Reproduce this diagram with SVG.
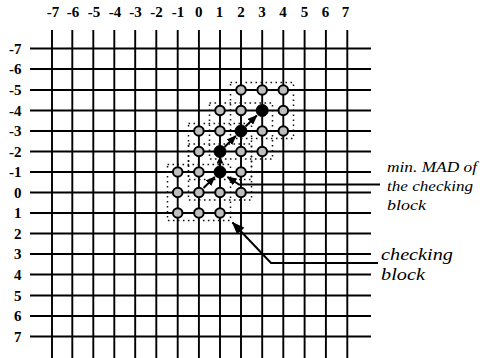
<svg xmlns="http://www.w3.org/2000/svg" width="484" height="358" viewBox="0 0 484 358">
<style>
.g{stroke:#000;stroke-width:1.9;fill:none}
.blk{fill:none;stroke:#111;stroke-width:1.5;stroke-dasharray:1.6 3.4}
.ax{font-family:"Liberation Serif",serif;font-weight:bold;font-size:15px;fill:#000}
.lb{font-family:"Liberation Serif",serif;font-style:italic;fill:#000}
.pt{fill:#bdbdbd;stroke:#000;stroke-width:2}
.bk{fill:#000;stroke:#000;stroke-width:1}
.ar{stroke:#000;stroke-width:2;fill:none}
.pn{stroke:#000;stroke-width:2;fill:none}
</style>
<defs>
<marker id="ah" markerUnits="userSpaceOnUse" markerWidth="10" markerHeight="8" refX="9" refY="4" orient="auto"><path d="M0,0 L10,4 L0,8 z" fill="#000"/></marker>
<marker id="ahs" markerUnits="userSpaceOnUse" markerWidth="7" markerHeight="7" refX="6" refY="3.5" orient="auto"><path d="M0,0 L7,3.5 L0,7 z" fill="#000"/></marker>
<marker id="ahl" markerUnits="userSpaceOnUse" markerWidth="13" markerHeight="10" refX="12" refY="5" orient="auto"><path d="M0,0 L13,5 L0,10 z" fill="#000"/></marker>
</defs>
<g id="grid">
<path class="g" d="M52,30V358M72.3,30V358M93.3,30V358M114.3,30V358M135.2,30V358M156.3,30V358M177.7,30V358M198.9,30V358M220,30V358M241,30V358M262.2,30V358M283.3,30V358M304.6,30V358M325.9,30V358M347.3,30V358"/>
<path class="g" d="M30,48.5H371M30,69H371M30,90H371M30,110.5H371M30,131H371M30,151.5H371M30,172H371M30,192.5H371M30,213H371M30,233.5H371M30,254H371M30,274.5H371M30,295.5H371M30,316H371M30,336.5H371"/>
</g>
<g id="x-axis" class="ax" text-anchor="middle">
<text x="53" y="17">-7</text><text x="73" y="17">-6</text><text x="94" y="17">-5</text><text x="115" y="17">-4</text><text x="135.5" y="17">-3</text><text x="156.5" y="17">-2</text><text x="178" y="17">-1</text><text x="198.7" y="17">0</text><text x="219.5" y="17">1</text><text x="241" y="17">2</text><text x="262" y="17">3</text><text x="283" y="17">4</text><text x="304.5" y="17">5</text><text x="325.5" y="17">6</text><text x="345.5" y="17">7</text>
</g>
<g id="y-axis" class="ax" text-anchor="end">
<text x="21.5" y="53.5">-7</text><text x="21.5" y="74">-6</text><text x="21.5" y="95">-5</text><text x="21.5" y="115.5">-4</text><text x="21.5" y="136">-3</text><text x="21.5" y="156.5">-2</text><text x="21.5" y="177">-1</text><text x="21.5" y="197.5">0</text><text x="21.5" y="218">1</text><text x="21.5" y="238.5">2</text><text x="21.5" y="259">3</text><text x="21.5" y="279.5">4</text><text x="21.5" y="300.5">5</text><text x="21.5" y="321">6</text><text x="21.5" y="341.5">7</text>
</g>
<g id="checking-blocks">
<rect id="block-0-0" class="blk" x="167.5" y="164.5" width="63" height="56"/>
<rect id="block-1-m1" class="blk" x="188.5" y="144" width="63" height="56"/>
<rect id="block-1-m2" class="blk" x="188.5" y="123.5" width="63" height="56"/>
<rect id="block-2-m3" class="blk" x="209.5" y="103" width="63" height="56"/>
<rect id="block-3-m4" class="blk" x="230.5" y="82.5" width="63" height="56"/>
</g>
<g id="connectors">
<line class="ar" x1="203.5" y1="188" x2="214.8" y2="177" marker-end="url(#ah)"/>
<line class="ar" x1="220" y1="166" x2="220" y2="157.5" marker-end="url(#ahs)"/>
<line class="ar" x1="224.5" y1="147" x2="235.8" y2="136" marker-end="url(#ah)"/>
<line class="ar" x1="245.5" y1="126.5" x2="256.8" y2="115.5" marker-end="url(#ah)"/>
<polyline class="pn" points="380,184.5 239,184.5 227.5,177" marker-end="url(#ah)"/>
<polyline class="pn" points="378,263 271,263 232.5,222.5" marker-end="url(#ahl)"/>
</g>
<g id="search-points">
<g id="p-2-m5"><circle class="pt" cx="241" cy="90" r="4.8"/></g>
<g id="p-3-m5"><circle class="pt" cx="262.2" cy="90" r="4.8"/></g>
<g id="p-4-m5"><circle class="pt" cx="283.3" cy="90" r="4.8"/></g>
<g id="p-1-m4"><circle class="pt" cx="220" cy="110.5" r="4.8"/></g>
<g id="p-2-m4"><circle class="pt" cx="241" cy="110.5" r="4.8"/></g>
<g id="p-4-m4"><circle class="pt" cx="283.3" cy="110.5" r="4.8"/></g>
<g id="p-0-m3"><circle class="pt" cx="198.9" cy="131" r="4.8"/></g>
<g id="p-1-m3"><circle class="pt" cx="220" cy="131" r="4.8"/></g>
<g id="p-3-m3"><circle class="pt" cx="262.2" cy="131" r="4.8"/></g>
<g id="p-4-m3"><circle class="pt" cx="283.3" cy="131" r="4.8"/></g>
<g id="p-0-m2"><circle class="pt" cx="198.9" cy="151.5" r="4.8"/></g>
<g id="p-2-m2"><circle class="pt" cx="241" cy="151.5" r="4.8"/></g>
<g id="p-3-m2"><circle class="pt" cx="262.2" cy="151.5" r="4.8"/></g>
<g id="p-m1-m1"><circle class="pt" cx="177.7" cy="172" r="4.8"/></g>
<g id="p-0-m1"><circle class="pt" cx="198.9" cy="172" r="4.8"/></g>
<g id="p-2-m1"><circle class="pt" cx="241" cy="172" r="4.8"/></g>
<g id="p-m1-0"><circle class="pt" cx="177.7" cy="192.5" r="4.8"/></g>
<g id="p-0-0"><circle class="pt" cx="198.9" cy="192.5" r="4.8"/></g>
<g id="p-1-0"><circle class="pt" cx="220" cy="192.5" r="4.8"/></g>
<g id="p-2-0"><circle class="pt" cx="241" cy="192.5" r="4.8"/></g>
<g id="p-m1-1"><circle class="pt" cx="177.7" cy="213" r="4.8"/></g>
<g id="p-0-1"><circle class="pt" cx="198.9" cy="213" r="4.8"/></g>
<g id="p-1-1"><circle class="pt" cx="220" cy="213" r="4.8"/></g>
<g id="best-3-m4"><circle class="bk" cx="262.2" cy="110.5" r="6"/></g>
<g id="best-2-m3"><circle class="bk" cx="241" cy="131" r="6"/></g>
<g id="best-1-m2"><circle class="bk" cx="220" cy="151.5" r="6"/></g>
<g id="best-1-m1"><circle class="bk" cx="220" cy="172" r="6"/></g>
</g>
<g id="label-min-mad" class="lb" font-size="15">
<text x="387" y="171.5" textLength="90" lengthAdjust="spacingAndGlyphs">min. MAD of</text>
<text x="387" y="190.5" textLength="86" lengthAdjust="spacingAndGlyphs">the checking</text>
<text x="387" y="209.5" textLength="39" lengthAdjust="spacingAndGlyphs">block</text>
</g>
<g id="label-checking-block" class="lb" font-size="17">
<text x="381" y="259.5" textLength="72" lengthAdjust="spacingAndGlyphs">checking</text>
<text x="381" y="280" textLength="44" lengthAdjust="spacingAndGlyphs">block</text>
</g>
</svg>
